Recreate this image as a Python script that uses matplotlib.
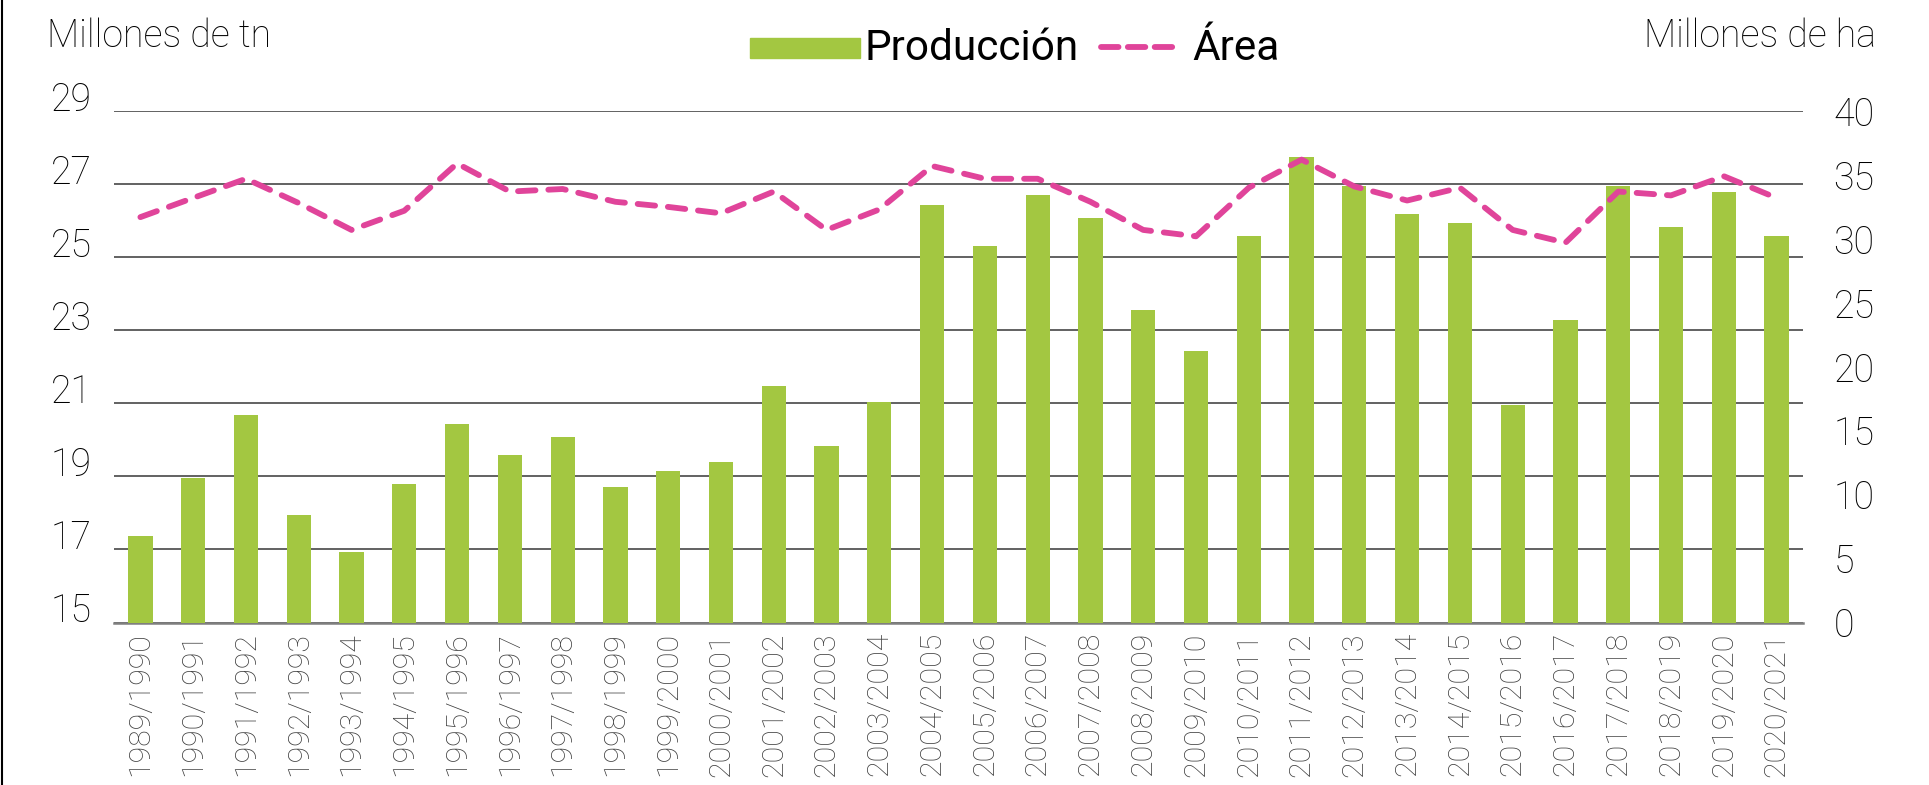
import matplotlib
matplotlib.use("Agg")
import matplotlib.pyplot as plt
from matplotlib.lines import Line2D
from matplotlib.patches import Rectangle
import numpy as np

campanas = ["1989/1990", "1990/1991", "1991/1992", "1992/1993", "1993/1994", "1994/1995",
            "1995/1996", "1996/1997", "1997/1998", "1998/1999", "1999/2000", "2000/2001",
            "2001/2002", "2002/2003", "2003/2004", "2004/2005", "2005/2006", "2006/2007",
            "2007/2008", "2008/2009", "2009/2010", "2010/2011", "2011/2012", "2012/2013",
            "2013/2014", "2014/2015", "2015/2016", "2016/2017", "2017/2018", "2018/2019",
            "2019/2020", "2020/2021"]

# Producción (millones de tn)
produccion = [17.38, 18.95, 20.67, 17.95, 16.92, 18.80, 20.43, 19.58, 20.08, 18.70,
              19.14, 19.40, 21.47, 19.82, 21.04, 26.44, 25.31, 26.69, 26.08, 23.55,
              22.42, 25.57, 27.74, 26.95, 26.18, 25.93, 20.95, 23.29, 26.95, 25.83,
              26.78, 25.57]

# Área (millones de ha)
area = [31.7, 33.2, 34.7, 32.8, 30.7, 32.2, 35.9, 33.7, 33.9, 32.9,
        32.5, 32.0, 33.7, 30.7, 32.3, 35.7, 34.7, 34.7, 32.9, 30.7,
        30.2, 34.0, 36.2, 34.1, 33.0, 34.0, 30.7, 29.7, 33.7, 33.4,
        34.9, 33.2]

left_ticks = [15, 17, 19, 21, 23, 25, 27, 29]
right_ticks = [0, 5, 10, 15, 20, 25, 30, 35, 40]

GREEN = "#A3C741"
PINK = "#E0449A"
W, H = 1929, 785
FS = 27

fig = plt.figure(figsize=(W / 100, H / 100), dpi=100)
ax = fig.add_axes([114 / W, 1 - 622.5 / H, (1803 - 114) / W, (622.5 - 111) / H])

x = np.arange(len(campanas))
ax.bar(x, produccion, width=0.46, color=GREEN, zorder=3)
ax.set_xlim(-0.5, len(campanas) - 0.5)
ax.set_ylim(15, 29)
ax.set_yticks(left_ticks)
ax.set_yticklabels([str(t) for t in left_ticks], fontsize=FS,
                   family="Roboto", fontweight="light", color="black")
for lab in ax.get_yticklabels():
    lab.set_verticalalignment("baseline")
ax.tick_params(axis="y", length=0, pad=16)
ax.set_xticks(x)
ax.set_xticklabels(campanas, rotation=90, fontsize=21.8, family="Roboto",
                   fontweight="light", color="#404040")
ax.tick_params(axis="x", length=0, pad=7)
ax.grid(axis="y", color="#555555", linewidth=1.3, zorder=0)
ax.set_axisbelow(True)
for s in ["top", "right", "left"]:
    ax.spines[s].set_visible(False)
ax.spines["bottom"].set_color("#7f7f7f")
ax.spines["bottom"].set_linewidth(1.8)

ax2 = ax.twinx()
ax2.plot(x, area, color=PINK, linewidth=4.2, linestyle=(0, (3.0, 2.2)),
         dash_capstyle="round", solid_capstyle="round", zorder=4)
ax2.set_ylim(0, 40)
ax2.set_yticks(right_ticks)
ax2.set_yticklabels([str(t) for t in right_ticks], fontsize=FS,
                    family="Roboto", fontweight="light", color="black")
ax2.tick_params(axis="y", length=0, pad=22)
for s in ax2.spines.values():
    s.set_visible(False)

fig.text(47 / W, 1 - 47 / H, "Millones de tn", fontsize=FS, family="Roboto",
         fontweight="light", ha="left", va="baseline")
fig.text(1876 / W, 1 - 47 / H, "Millones de ha", fontsize=FS, family="Roboto",
         fontweight="light", ha="right", va="baseline")

# legend
fig.add_artist(Rectangle((750 / W, 1 - 58 / H), 110 / W, 20 / H,
                         transform=fig.transFigure, color=GREEN))
fig.text(864 / W, 1 - 60 / H, "Producción", fontsize=30.5, family="Roboto",
         ha="left", va="baseline")
fig.add_artist(Line2D([1101 / W, 1178 / W], [1 - 47 / H, 1 - 47 / H],
                      transform=fig.transFigure, color=PINK, linewidth=4.2,
                      linestyle=(0, (3.0, 1.6)), dash_capstyle="round"))
fig.text(1192 / W, 1 - 60 / H, "Área", fontsize=30.5, family="Roboto",
         ha="left", va="baseline")

# left frame line
fig.add_artist(Line2D([2 / W, 2 / W], [0, 1], transform=fig.transFigure,
                      color="black", linewidth=1.5))

fig.savefig("out.png", dpi=100)
